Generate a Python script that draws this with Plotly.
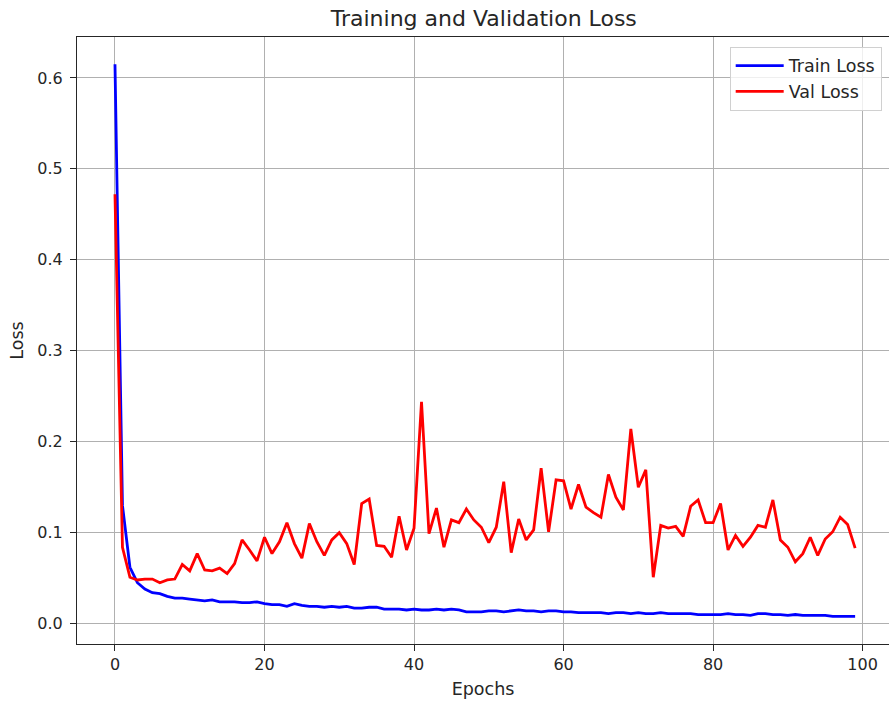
import plotly.graph_objects as go

epochs = list(range(100))

train_loss = [
    0.615, 0.130, 0.062, 0.045, 0.038, 0.034, 0.033, 0.030, 0.028, 0.028,
    0.027, 0.026, 0.025, 0.026, 0.024, 0.024, 0.024, 0.023, 0.023, 0.024,
    0.022, 0.021, 0.021, 0.019, 0.022, 0.020, 0.019, 0.019, 0.018, 0.019,
    0.018, 0.019, 0.017, 0.017, 0.018, 0.018, 0.016, 0.016, 0.016, 0.015,
    0.016, 0.015, 0.015, 0.016, 0.015, 0.016, 0.015, 0.013, 0.013, 0.013,
    0.014, 0.014, 0.013, 0.014, 0.015, 0.014, 0.014, 0.013, 0.014, 0.014,
    0.013, 0.013, 0.012, 0.012, 0.012, 0.012, 0.011, 0.012, 0.012, 0.011,
    0.012, 0.011, 0.011, 0.012, 0.011, 0.011, 0.011, 0.011, 0.010, 0.010,
    0.010, 0.010, 0.011, 0.010, 0.010, 0.009, 0.011, 0.011, 0.010, 0.010,
    0.009, 0.010, 0.009, 0.009, 0.009, 0.009, 0.008, 0.008, 0.008, 0.008,
]

val_loss = [
    0.472, 0.084, 0.051, 0.048, 0.049, 0.049, 0.045, 0.048, 0.049, 0.065,
    0.058, 0.077, 0.059, 0.058, 0.061, 0.055, 0.066, 0.092, 0.081, 0.069,
    0.095, 0.077, 0.090, 0.111, 0.088, 0.072, 0.110, 0.090, 0.075, 0.092,
    0.100, 0.088, 0.065, 0.132, 0.137, 0.086, 0.085, 0.073, 0.118, 0.081,
    0.105, 0.244, 0.099, 0.127, 0.084, 0.114, 0.111, 0.126, 0.114, 0.106,
    0.089, 0.106, 0.156, 0.078, 0.115, 0.092, 0.103, 0.171, 0.101, 0.158,
    0.157, 0.126, 0.153, 0.128, 0.122, 0.117, 0.164, 0.139, 0.125, 0.214,
    0.150, 0.169, 0.051, 0.108, 0.105, 0.107, 0.096, 0.129, 0.136, 0.111,
    0.111, 0.132, 0.081, 0.097, 0.085, 0.095, 0.108, 0.106, 0.136, 0.092,
    0.084, 0.068, 0.077, 0.095, 0.075, 0.093, 0.101, 0.117, 0.109, 0.083,
]

x_ticks = [0, 20, 40, 60, 80, 100]
y_ticks = [0.0, 0.1, 0.2, 0.3, 0.4, 0.5, 0.6]

FONT = "DejaVu Sans"
TXT = "#262626"

fig = go.Figure()
fig.add_trace(go.Scatter(x=epochs, y=train_loss, mode="lines", name="Train Loss",
                         line=dict(color="#0000ff", width=2.8)))
fig.add_trace(go.Scatter(x=epochs, y=val_loss, mode="lines", name="Val Loss",
                         line=dict(color="#ff0000", width=2.8)))

fig.update_layout(
    width=889, height=704,
    margin=dict(l=77, r=0, t=37, b=60),
    paper_bgcolor="white", plot_bgcolor="white",
    font=dict(family=FONT, size=16, color=TXT),
    title=dict(text="Training and Validation Loss", font=dict(family=FONT, size=22, color=TXT),
               xref="paper", x=0.501, xanchor="center",
               yref="container", y=1 - 18 / 704, yanchor="middle"),
    showlegend=True,
    legend=dict(x=0.991, xanchor="right", y=0.984, yanchor="top",
                bgcolor="rgba(255,255,255,0.8)", bordercolor="#d0d0d0", borderwidth=1,
                font=dict(family=FONT, size=17.5, color=TXT),
                itemwidth=48, tracegroupgap=0),
)

fig.update_xaxes(
    range=[-5.08, 103.53], tickvals=x_ticks, ticktext=[str(v) for v in x_ticks],
    showgrid=True, gridcolor="#b0b0b0", gridwidth=1.1, zeroline=False,
    showline=True, linecolor=TXT, linewidth=1.2, mirror=True,
    ticks="outside", ticklen=6, tickwidth=1.2, tickcolor=TXT,
    tickfont=dict(family=FONT, size=16, color=TXT),
    title=dict(text="Epochs", font=dict(family=FONT, size=17.5, color=TXT), standoff=9),
)
fig.update_yaxes(
    range=[-0.0224, 0.645], tickvals=y_ticks, ticktext=[f"{v:.1f}" for v in y_ticks],
    showgrid=True, gridcolor="#b0b0b0", gridwidth=1.1, zeroline=False,
    showline=True, linecolor=TXT, linewidth=1.2, mirror=False,
    ticks="outside", ticklen=6, tickwidth=1.2, tickcolor=TXT,
    ticklabelstandoff=4,
    tickfont=dict(family=FONT, size=16, color=TXT),
    title=dict(text="Loss", font=dict(family=FONT, size=17.5, color=TXT), standoff=9),
)

fig.write_html("out.html", config={"displayModeBar": False},
               post_script="document.body.style.margin='0';document.body.style.overflow='hidden';")
